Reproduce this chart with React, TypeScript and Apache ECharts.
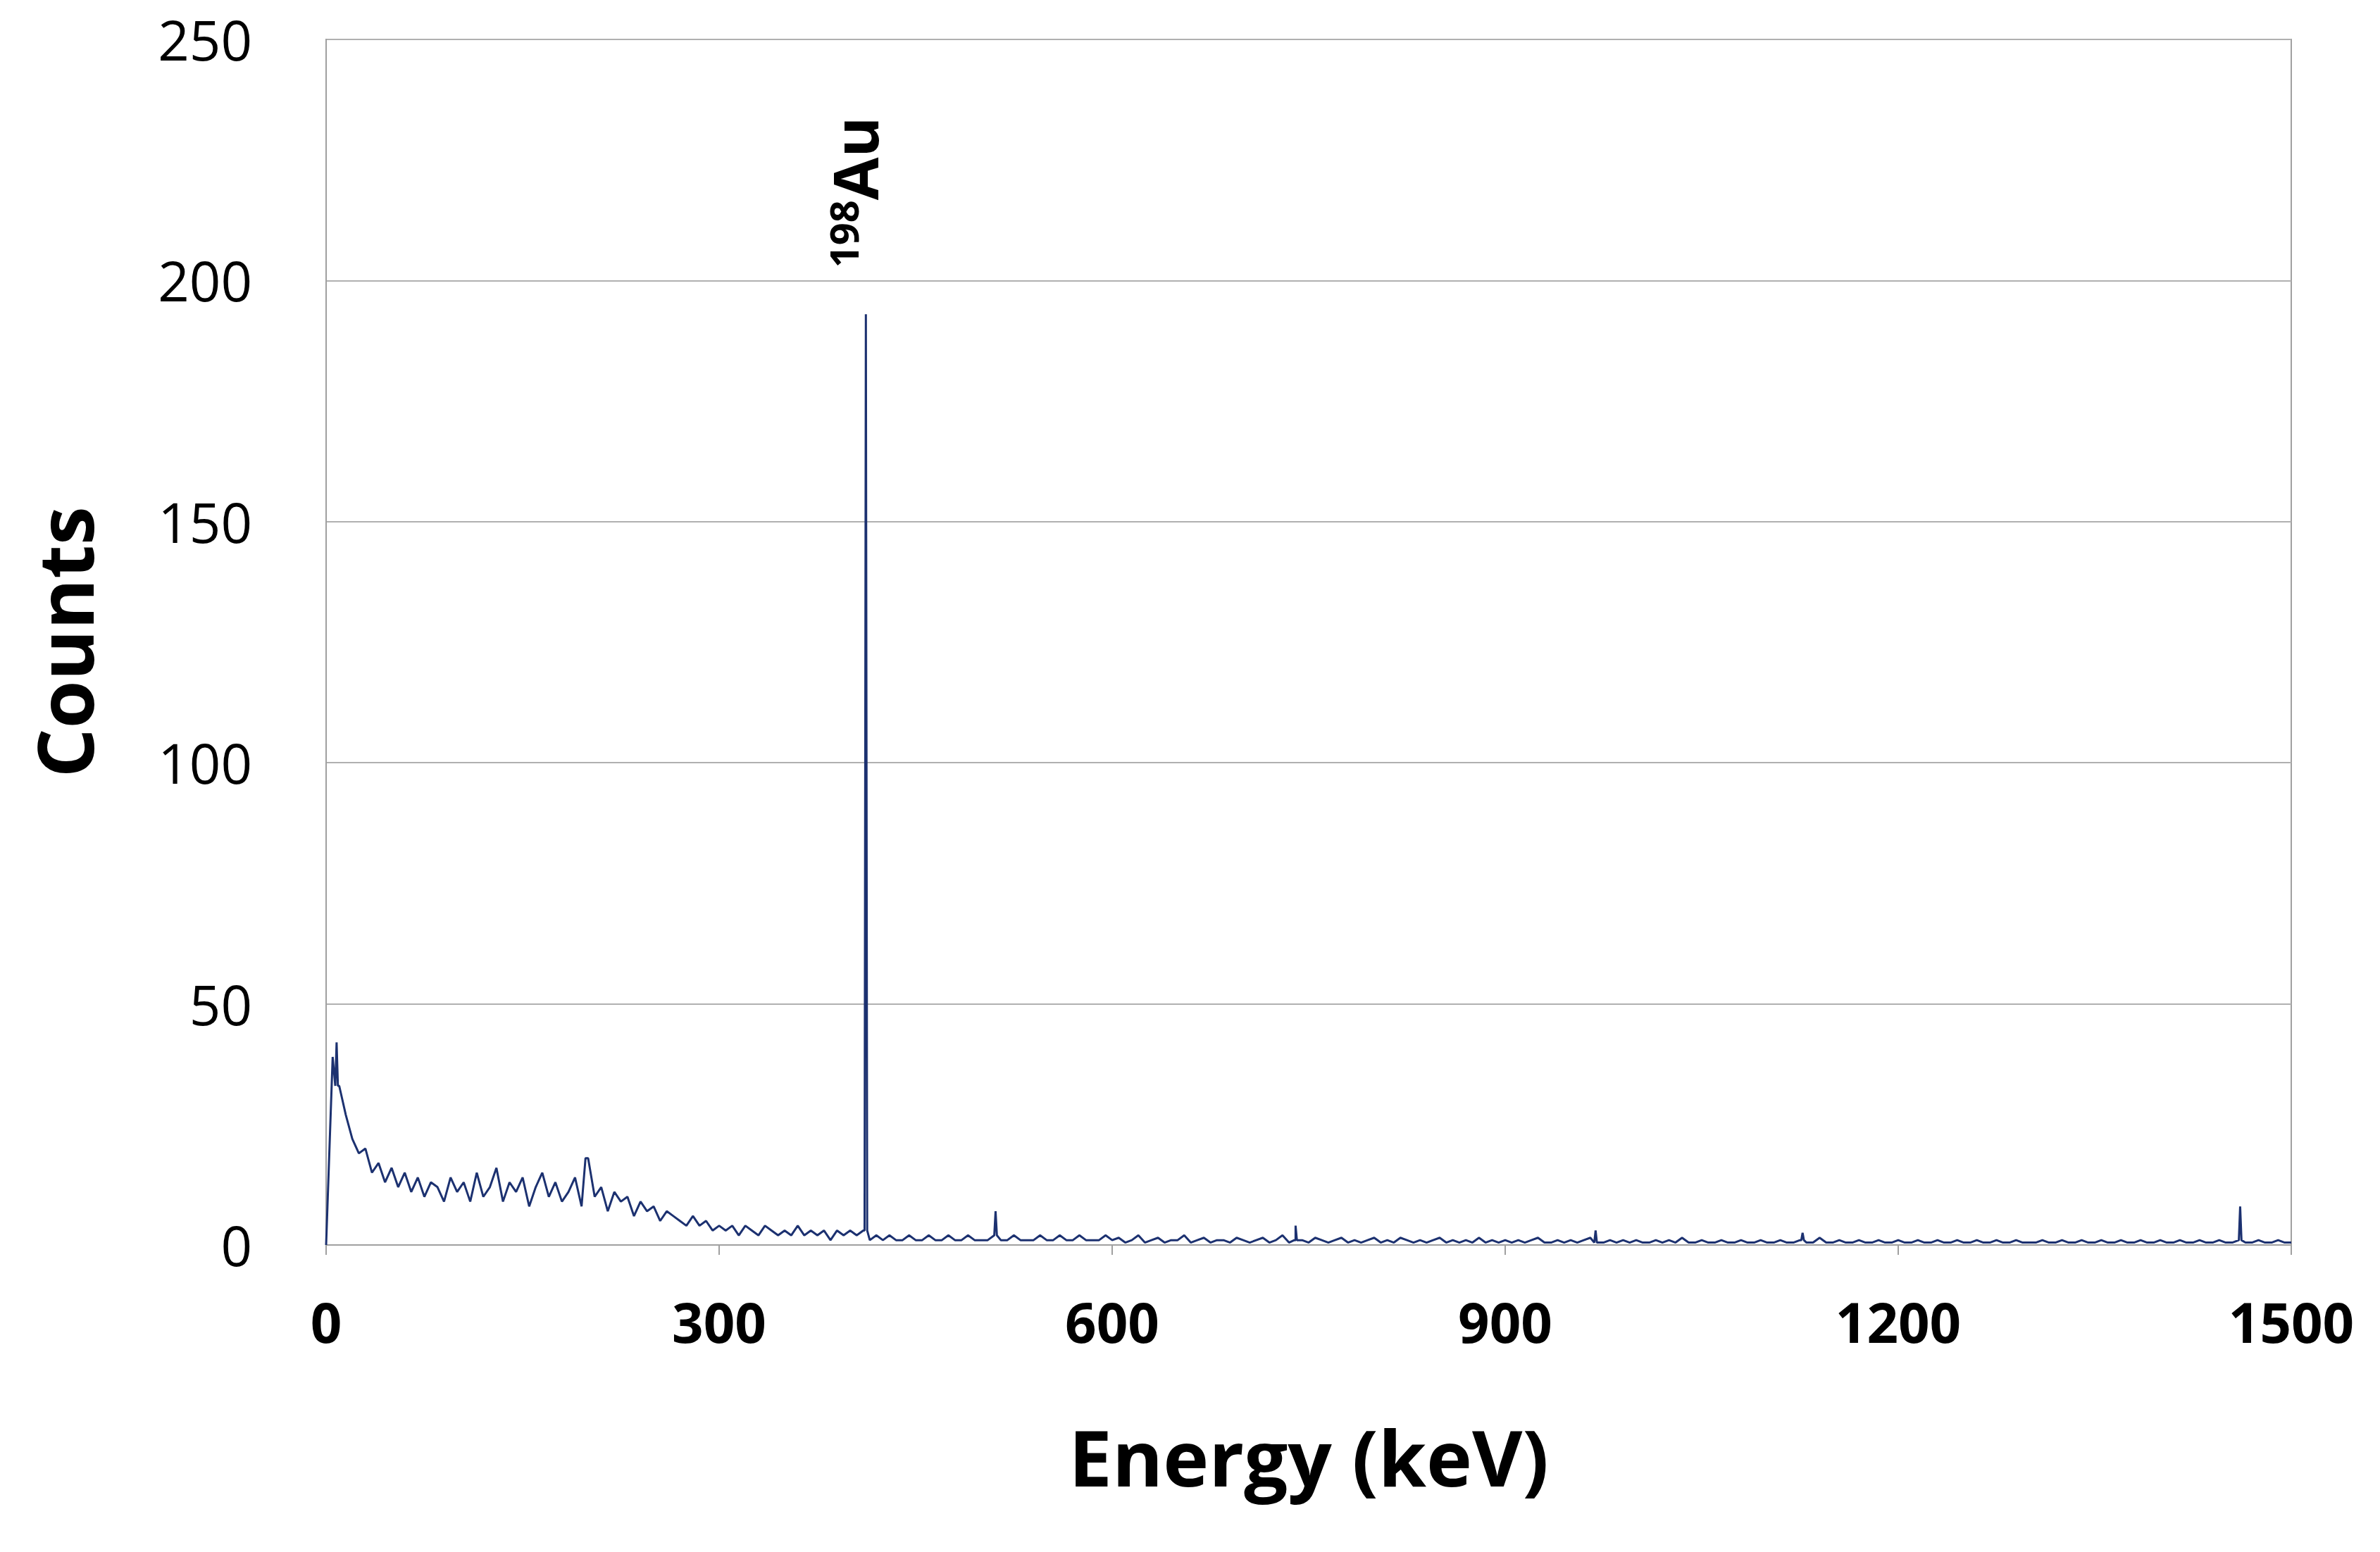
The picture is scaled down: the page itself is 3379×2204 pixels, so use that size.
import React, { useEffect, useRef } from "react";
import * as echarts from "echarts";

const STEP = 5;
const counts: number[] = [
  0, 39, 33, 27, 22, 19, 20, 15, 17, 13, 16, 12, 15, 11, 14, 10, 13, 12, 9, 14, 11,
  13, 9, 15, 10, 12, 16, 9, 13, 11, 14, 8, 12, 15, 10, 13, 9, 11, 14, 8, 18,
  10, 12, 7, 11, 9, 10, 6, 9, 7, 8, 5, 7, 6, 5, 4, 6, 4, 5, 3, 4,
  3, 4, 2, 4, 3, 2, 4, 3, 2, 3, 2, 4, 2, 3, 2, 3, 1, 3, 2, 3,
  2, 3, 1, 2, 1, 2, 1, 1, 2, 1, 1, 2, 1, 1, 2, 1, 1, 2, 1, 1,
  1, 2, 1, 1, 2, 1, 1, 1, 2, 1, 1, 2, 1, 1, 2, 1, 1, 1, 2, 1,
  1.5, 0.5, 1, 2, 0.5, 1, 1.5, 0.5, 1, 1, 2, 0.5, 1, 1.5, 0.5, 1, 1, 0.5, 1.5, 1,
  0.5, 1, 1.5, 0.5, 1, 2, 0.5, 1, 1, 0.5, 1.5, 1, 0.5, 1, 1.5, 0.5, 1, 0.5, 1, 1.5,
  0.5, 1, 0.5, 1.5, 1, 0.5, 1, 0.5, 1, 1.5, 0.5, 1, 0.5, 1, 0.5, 1.5, 0.5, 1, 0.5, 1,
  0.5, 1, 0.5, 1, 1.5, 0.5, 0.5, 1, 0.5, 1, 0.5, 1, 1.5, 0.5, 0.5, 1, 0.5, 1, 0.5, 1,
  0.5, 0.5, 1, 0.5, 1, 0.5, 1.5, 0.5, 0.5, 1, 0.5, 0.5, 1, 0.5, 0.5, 1, 0.5, 0.5, 1, 0.5,
  0.5, 1, 0.5, 0.5, 1, 0.5, 0.5, 1.5, 0.5, 0.5, 1, 0.5, 0.5, 1, 0.5, 0.5, 1, 0.5, 0.5, 1,
  0.5, 0.5, 1, 0.5, 0.5, 1, 0.5, 0.5, 1, 0.5, 0.5, 1, 0.5, 0.5, 1, 0.5, 0.5, 1, 0.5, 0.5,
  0.5, 1, 0.5, 0.5, 1, 0.5, 0.5, 1, 0.5, 0.5, 1, 0.5, 0.5, 1, 0.5, 0.5, 1, 0.5, 0.5, 1,
  0.5, 0.5, 1, 0.5, 0.5, 1, 0.5, 0.5, 1, 0.5, 0.5, 1, 0.5, 0.5, 1, 0.5, 0.5, 1, 0.5, 0.5,
];
const peakEnergies = [8, 199, 412, 511, 740, 969, 1127, 1461];
const peakCounts = [42, 18, 193, 7, 4, 3, 2.5, 8];

function buildData() {
  const pts: [number, number][] = counts.map((c, i) => [i * STEP, c]);
  peakEnergies.forEach((e, k) => {
    const base = counts[Math.min(Math.round(e / STEP), counts.length - 1)];
    pts.push([e - 1, base], [e, peakCounts[k]], [e + 1, base]);
  });
  return pts.sort((a, b) => a[0] - b[0]);
}

export default function App() {
  const ref = useRef<HTMLDivElement>(null);
  useEffect(() => {
    const chart = echarts.init(ref.current!, null, { renderer: "svg" });
    const font = "Open Sans";
    chart.setOption({
      animation: false,
      backgroundColor: "#fff",
      grid: { left: 455, right: 118, top: 48, bottom: 428, show: true, borderColor: "#a0a0a0", borderWidth: 2 },
      xAxis: {
        type: "value", min: 0, max: 1500, interval: 300,
        name: "Energy (keV)", nameLocation: "middle", nameGap: 245,
        nameTextStyle: { fontFamily: font, fontWeight: "bold", fontSize: 110, color: "#000" },
        axisLine: { lineStyle: { color: "#a0a0a0", width: 2 } },
        axisTick: { show: true, length: 14, inside: false, lineStyle: { color: "#a0a0a0", width: 2 } },
        axisLabel: { fontFamily: font, fontWeight: "bold", fontSize: 78, color: "#000", margin: 70, formatter: (v: number) => String(v) },
        splitLine: { show: false },
      },
      yAxis: {
        type: "value", min: 0, max: 250, interval: 50,
        name: "Counts", nameLocation: "middle", nameGap: 318,
        nameTextStyle: { fontFamily: font, fontWeight: "bold", fontSize: 110, color: "#000" },
        axisLine: { show: true, lineStyle: { color: "#a0a0a0", width: 2 } },
        axisTick: { show: false },
        axisLabel: { fontFamily: font, fontSize: 78, color: "#000", margin: 105 },
        splitLine: { lineStyle: { color: "#b0b0b0", width: 2 } },
      },
      series: [{
        type: "line", data: buildData(), symbol: "none",
        lineStyle: { color: "#1c3170", width: 3 },
      }],
      graphic: [{
        type: "text", x: 1205, y: 265, rotation: Math.PI / 2,
        style: {
          text: "{s|198}{b|Au}", align: "center", verticalAlign: "middle",
          rich: {
            s: { fontFamily: font, fontWeight: "bold", fontSize: 56, fill: "#000", verticalAlign: "top", padding: [0, 0, 30, 0] },
            b: { fontFamily: font, fontWeight: "bold", fontSize: 88, fill: "#000" },
          },
        },
      }],
    });
    return () => chart.dispose();
  }, []);
  return <div ref={ref} style={{ width: 3363, height: 2188 }} />;
}
